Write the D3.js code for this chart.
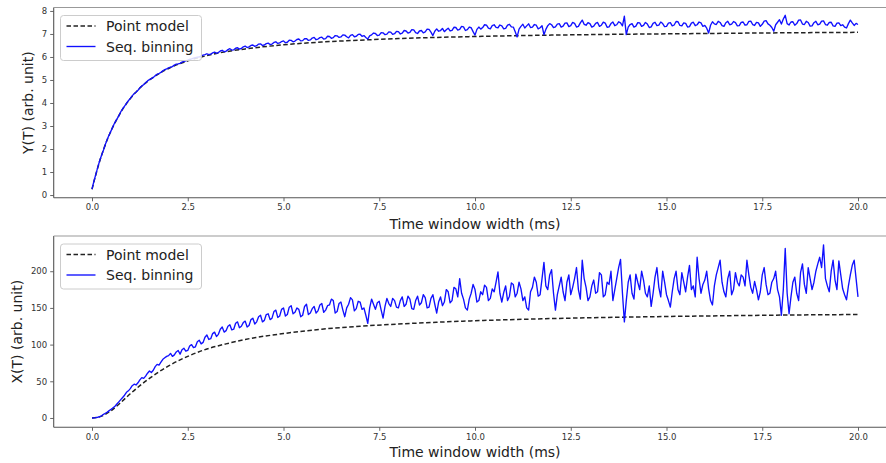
<!DOCTYPE html>
<html>
<head>
<meta charset="utf-8">
<script src="https://cdn.jsdelivr.net/npm/d3@7"></script>
<style>
  html, body { margin: 0; padding: 0; background: #fff; }
  svg { display: block; font-family: "DejaVu Sans", sans-serif; }
</style>
</head>
<body>
<svg id="chart" width="886" height="463"></svg>
<script>
// ---------------- DATA ----------------
const xTicks = [0, 2.5, 5, 7.5, 10, 12.5, 15, 17.5, 20];
const yTicksTop = [0, 1, 2, 3, 4, 5, 6, 7, 8];
const yTicksBottom = [0, 50, 100, 150, 200];
const seriesNames = ["Point model", "Seq. binning"];

// Point model, top panel Y(T)
const modelYT = [0, 0.1, 0.2, 0.3, 0.4, 0.5, 0.6, 0.8, 1.0, 1.25, 1.5, 1.75, 2, 2.5, 3, 3.5, 4, 5, 6, 7, 8, 9, 10, 12, 14, 16, 18, 20];
const modelY = [0.25, 0.89, 1.47, 1.97, 2.41, 2.80, 3.14, 3.73, 4.19, 4.65, 5.00, 5.28, 5.50, 5.83, 6.06, 6.23, 6.35, 6.53, 6.65, 6.73, 6.80, 6.85, 6.89, 6.95, 6.99, 7.02, 7.05, 7.07];

// Point model, bottom panel X(T)
const modelXT = [0, 0.25, 0.5, 0.75, 1, 1.25, 1.5, 1.75, 2, 2.5, 3, 3.5, 4, 5, 6, 7, 8, 9, 10, 12, 14, 16, 18, 20];
const modelX = [0, 2.5, 10, 21, 33, 44, 54, 63, 71, 84, 94, 101, 107, 115, 121, 125, 128, 130.5, 132.5, 135.5, 137.5, 139, 140.2, 141];

// Sequential binning, sampled every 0.05 ms from 0 to 20 ms (one row = 1 ms)
const binY = [
  0.26, 0.60, 0.90, 1.20, 1.49, 1.73, 1.96, 2.21, 2.43, 2.62, 2.80, 2.99, 3.16, 3.30, 3.44, 3.61, 3.75, 3.86, 3.98, 4.10,
  4.20, 4.31, 4.41, 4.47, 4.55, 4.66, 4.74, 4.80, 4.88, 4.96, 5.02, 5.06, 5.11, 5.19, 5.25, 5.28, 5.33, 5.40, 5.45, 5.48,
  5.53, 5.56, 5.58, 5.65, 5.69, 5.70, 5.72, 5.78, 5.81, 5.83, 5.86, 5.90, 5.92, 5.95, 5.97, 5.99, 6.00, 6.05, 6.08, 6.10,
  6.14, 6.10, 6.12, 6.18, 6.21, 6.16, 6.19, 6.26, 6.29, 6.23, 6.25, 6.32, 6.36, 6.30, 6.31, 6.38, 6.40, 6.34, 6.37, 6.44,
  6.47, 6.41, 6.44, 6.50, 6.52, 6.46, 6.49, 6.56, 6.57, 6.50, 6.52, 6.58, 6.60, 6.54, 6.56, 6.63, 6.66, 6.59, 6.61, 6.67,
  6.70, 6.62, 6.64, 6.73, 6.72, 6.66, 6.69, 6.76, 6.78, 6.70, 6.71, 6.79, 6.80, 6.72, 6.74, 6.82, 6.85, 6.75, 6.78, 6.84,
  6.86, 6.78, 6.80, 6.90, 6.89, 6.81, 6.84, 6.93, 6.92, 6.85, 6.87, 6.96, 6.95, 6.88, 6.83, 6.94, 6.97, 6.88, 6.90, 6.98,
  6.99, 6.90, 6.93, 6.85, 6.78, 6.92, 6.96, 7.04, 7.02, 6.93, 6.95, 7.06, 7.05, 6.97, 6.99, 7.09, 7.08, 6.98, 7.01, 7.11,
  7.10, 7.00, 7.04, 7.15, 7.13, 7.04, 7.07, 7.19, 7.18, 7.06, 7.02, 7.13, 7.15, 7.05, 7.09, 7.21, 7.20, 7.08, 6.93, 7.12,
  7.22, 7.12, 7.15, 7.24, 7.10, 7.18, 7.25, 7.13, 7.16, 7.29, 7.28, 7.17, 7.20, 7.33, 7.31, 7.15, 7.19, 7.30, 7.27, 7.10,
  6.95, 7.20, 7.30, 7.21, 7.28, 7.40, 7.38, 7.25, 7.22, 7.36, 7.40, 7.29, 7.27, 7.39, 7.35, 7.22, 7.24, 7.38, 7.42, 7.31,
  7.30, 7.10, 6.87, 7.21, 7.33, 7.42, 7.26, 7.35, 7.44, 7.28, 7.30, 7.41, 7.38, 7.22, 7.27, 7.36, 6.97, 7.20, 7.36, 7.45,
  7.40, 7.28, 7.31, 7.43, 7.45, 7.30, 7.34, 7.47, 7.48, 7.32, 7.36, 7.50, 7.46, 7.30, 7.33, 7.48, 7.60, 7.42, 7.38, 7.49,
  7.45, 7.30, 7.34, 7.46, 7.50, 7.33, 7.38, 7.51, 7.47, 7.29, 7.31, 7.45, 7.52, 7.36, 7.40, 7.53, 7.48, 7.35, 7.77, 6.97,
  7.30, 7.41, 7.45, 7.30, 7.34, 7.49, 7.48, 7.33, 7.37, 7.50, 7.43, 7.28, 7.31, 7.46, 7.51, 7.36, 7.38, 7.52, 7.45, 7.32,
  7.33, 7.47, 7.49, 7.35, 7.39, 7.54, 7.53, 7.37, 7.35, 7.48, 7.46, 7.30, 7.32, 7.47, 7.51, 7.36, 7.40, 7.52, 7.48, 7.33,
  7.37, 7.25, 7.04, 7.38, 7.53, 7.44, 7.41, 7.55, 7.50, 7.36, 7.33, 7.49, 7.55, 7.40, 7.43, 7.54, 7.49, 7.35, 7.36, 7.50,
  7.52, 7.38, 7.40, 7.55, 7.56, 7.41, 7.37, 7.50, 7.48, 7.33, 7.42, 7.56, 7.58, 7.44, 7.38, 7.28, 7.12, 7.40, 7.51, 7.62,
  7.43, 7.65, 7.81, 7.45, 7.39, 7.52, 7.53, 7.38, 7.45, 7.60, 7.61, 7.43, 7.41, 7.55, 7.50, 7.34, 7.35, 7.49, 7.55, 7.40,
  7.43, 7.56, 7.57, 7.41, 7.38, 7.50, 7.51, 7.35, 7.33, 7.47, 7.48, 7.36, 7.40, 7.30, 7.26, 7.45, 7.60, 7.48, 7.37, 7.46,
  7.41
];
const binX = [
  0, 0.2, 0.5, 1, 2, 3, 5, 6.5, 8, 10, 12, 14, 16, 19, 22, 25, 28, 31, 35, 37,
  40, 44, 46, 45, 48, 52, 55, 54, 57, 61, 64, 62, 65, 70, 73, 72, 76, 80, 82, 84,
  85, 88, 84, 86, 90, 92, 87, 93, 95, 91, 92, 98, 100, 96, 97, 104, 106, 101, 103, 110,
  113, 107, 108, 115, 117, 111, 114, 121, 124, 117, 119, 125, 127, 120, 121, 129, 131, 123, 125, 130,
  132, 124, 126, 134, 136, 128, 131, 138, 140, 131, 133, 141, 142, 134, 136, 145, 147, 137, 139, 148,
  150, 139, 141, 151, 153, 142, 144, 150, 148, 138, 140, 152, 155, 141, 143, 149, 152, 143, 146, 154,
  156, 144, 147, 153, 154, 162, 160, 143, 145, 156, 158, 147, 138, 150, 155, 164, 161, 146, 149, 159,
  158, 148, 150, 140, 129, 150, 162, 155, 148, 157, 159, 147, 136, 152, 163, 156, 152, 163, 160, 151,
  150, 160, 165, 152, 155, 166, 162, 149, 148, 160, 166, 154, 157, 168, 164, 150, 151, 163, 168, 155,
  143, 158, 165, 153, 158, 175, 172, 157, 160, 178, 176, 165, 190, 170, 162, 150, 147, 162, 170, 182,
  175, 158, 160, 172, 168, 181, 178, 160, 163, 176, 172, 185, 199, 170, 158, 171, 180, 160, 166, 184,
  182, 165, 170, 185, 176, 160, 165, 150, 147, 172, 178, 192, 185, 166, 168, 190, 212, 180, 175, 195,
  202, 170, 147, 168, 180, 192, 172, 160, 185, 195, 168, 178, 190, 205, 175, 162, 215, 190, 178, 160,
  165, 180, 188, 170, 172, 198, 195, 165, 168, 185, 182, 200, 160, 175, 190, 205, 216, 170, 131, 160,
  185, 195, 170, 162, 196, 185, 175, 200, 188, 170, 165, 180, 152, 170, 192, 205, 178, 165, 200, 185,
  168, 160, 151, 172, 190, 200, 175, 168, 198, 185, 172, 192, 208, 175, 180, 165, 219, 190, 170, 182,
  188, 200, 176, 160, 154, 180, 195, 205, 215, 185, 172, 165, 190, 200, 168, 175, 198, 185, 180, 195,
  192, 180, 215, 195, 178, 170, 186, 175, 161, 172, 195, 205, 182, 168, 170, 185, 190, 200, 175, 165,
  140, 175, 231, 170, 142, 165, 185, 192, 170, 160, 198, 210, 182, 170, 205, 190, 175, 185, 200, 210,
  219, 205, 236, 190, 180, 172, 200, 215, 188, 175, 214, 195, 176, 168, 161, 180, 195, 208, 215, 190,
  165
];
const tStart = 0, tEnd = 20;

// ---------------- DRAW ----------------
const svg = d3.select("#chart");

const x = d3.scaleLinear().domain([-1, 21]).range([53.7, 896.3]);

const panels = [
  { top: 7.5, bottom: 197.8, domain: [-0.12, 8.15], ticks: yTicksTop,
    modelT: modelYT, model: modelY, bin: binY, ylabel: "Y(T) (arb. unit)", ylabelX: 28, xlabelY: 229 },
  { top: 236, bottom: 427.3, domain: [-12.7, 248], ticks: yTicksBottom,
    modelT: modelXT, model: modelX, bin: binX, ylabel: "X(T) (arb. unit)", ylabelX: 17, xlabelY: 457 }
];

const spineColor = "#555";
const textColor = "#333";
const blue = "#1010ff";

panels.forEach((p, pi) => {
  const y = d3.scaleLinear().domain(p.domain).range([p.bottom, p.top]);
  const g = svg.append("g");

  const clipId = "clip" + pi;
  svg.append("clipPath").attr("id", clipId)
    .append("rect").attr("x", x.range()[0]).attr("y", p.top)
    .attr("width", x.range()[1] - x.range()[0]).attr("height", p.bottom - p.top);

  const step = (tEnd - tStart) / (p.bin.length - 1);
  const modelPts = p.modelT.map((t, i) => [t, p.model[i]]);
  const binPts = p.bin.map((v, i) => [tStart + i * step, v]);
  const lineM = d3.line().x(d => x(d[0])).y(d => y(d[1])).curve(d3.curveMonotoneX);
  const lineB = d3.line().x(d => x(d[0])).y(d => y(d[1]));

  const plot = g.append("g").attr("clip-path", `url(#${clipId})`);
  plot.append("path").datum(modelPts).attr("d", lineM)
    .attr("fill", "none").attr("stroke", "#222").attr("stroke-width", 1.5)
    .attr("stroke-dasharray", "4.5,2.5");
  plot.append("path").datum(binPts).attr("d", lineB)
    .attr("fill", "none").attr("stroke", blue).attr("stroke-width", 1.35)
    .attr("stroke-linejoin", "round");

  // axes
  const xAxis = d3.axisBottom(x).tickValues(xTicks).tickFormat(d3.format(".1f")).tickSize(3.5).tickPadding(3);
  const gx = g.append("g").attr("transform", `translate(0,${p.bottom})`).call(xAxis);
  const yAxis = d3.axisLeft(y).tickValues(p.ticks).tickFormat(d3.format("d")).tickSize(3.5).tickPadding(3);
  const gy = g.append("g").attr("transform", `translate(${x.range()[0]},0)`).call(yAxis);
  [gx, gy].forEach(a => {
    a.select(".domain").remove();
    a.selectAll(".tick line").attr("stroke", spineColor).attr("stroke-width", 0.9);
    a.selectAll(".tick text").attr("fill", textColor).attr("font-size", 8.5)
      .attr("font-family", "DejaVu Sans");
  });

  // spines
  const sp = g.append("g").attr("stroke", spineColor).attr("stroke-width", 1.1).attr("fill", "none");
  sp.append("line").attr("x1", x.range()[0]).attr("x2", x.range()[0]).attr("y1", p.top).attr("y2", p.bottom);
  sp.append("line").attr("x1", x.range()[0]).attr("x2", x.range()[1]).attr("y1", p.bottom).attr("y2", p.bottom);
  sp.append("line").attr("x1", x.range()[0]).attr("x2", x.range()[1]).attr("y1", p.top).attr("y2", p.top)
    .attr("stroke", "#999");
  sp.append("line").attr("x1", x.range()[1]).attr("x2", x.range()[1]).attr("y1", p.top).attr("y2", p.bottom);

  // axis labels
  g.append("text").attr("x", (x.range()[0] + x.range()[1]) / 2).attr("y", p.xlabelY)
    .attr("text-anchor", "middle").attr("font-size", 14).attr("fill", "#222")
    .text("Time window width (ms)");
  g.append("text").attr("transform", `translate(${p.ylabelX},${(p.top + p.bottom) / 2}) rotate(-90)`)
    .attr("text-anchor", "middle").attr("dominant-baseline", "central")
    .attr("font-size", 14).attr("fill", "#222").text(p.ylabel);

  // legend
  const lg = g.append("g").attr("transform", `translate(60.5,${p.top + 8})`);
  lg.append("rect").attr("width", 141).attr("height", 45).attr("rx", 3)
    .attr("fill", "white").attr("fill-opacity", 0.85).attr("stroke", "#ccc").attr("stroke-width", 1);
  const rows = [
    { name: seriesNames[0], dash: "4.5,2.5", color: "#222", w: 1.5 },
    { name: seriesNames[1], dash: null, color: blue, w: 1.35 }
  ];
  rows.forEach((r, i) => {
    const cy = 10.5 + i * 20.5;
    lg.append("line").attr("x1", 6).attr("x2", 35).attr("y1", cy).attr("y2", cy)
      .attr("stroke", r.color).attr("stroke-width", r.w)
      .attr("stroke-dasharray", r.dash);
    lg.append("text").attr("x", 45.5).attr("y", cy).attr("dominant-baseline", "central")
      .attr("font-size", 14).attr("fill", "#222").text(r.name);
  });
});
</script>
</body>
</html>
